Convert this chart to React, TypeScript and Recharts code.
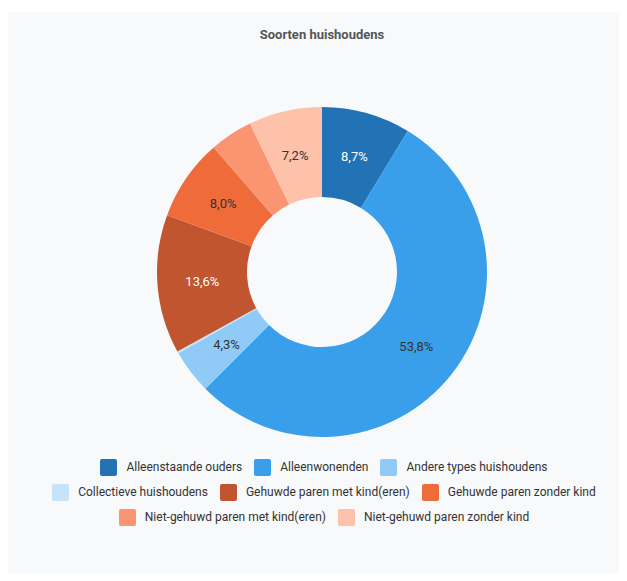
import { Cell, Pie, PieChart } from 'recharts';

const categories = [
    'Alleenstaande ouders',
    'Alleenwonenden',
    'Andere types huishoudens',
    'Collectieve huishoudens',
    'Gehuwde paren met kind(eren)',
    'Gehuwde paren zonder kind',
    'Niet-gehuwd paren met kind(eren)',
    'Niet-gehuwd paren zonder kind',
];

const shares = [8.7, 53.8, 4.3, 0.2, 13.6, 8.0, 4.2, 7.2];

const colors = [
    '#2173b6',
    '#399fea',
    '#90cbf8',
    '#c5e3fb',
    '#c1552f',
    '#f06b3a',
    '#fb9470',
    '#fec1aa',
];

const labelColors = ['#ffffff', '#333333', '#333333', '#333333', '#ffffff', '#333333', '#333333', '#333333'];

const data = categories.map((name, i) => ({ name, value: shares[i] }));

const RADIAN = Math.PI / 180;

const renderLabel = (props: any) => {
    const { cx, cy, midAngle, innerRadius, outerRadius, percent, index } = props;
    if (percent < 0.043) return null;
    const r = (innerRadius + outerRadius) / 2;
    const x = cx + r * Math.cos(-midAngle * RADIAN);
    const y = cy + r * Math.sin(-midAngle * RADIAN);
    const txt =
        (percent * 100).toLocaleString('nl-NL', {
            minimumFractionDigits: 1,
            maximumFractionDigits: 1,
        }) + '%';
    return (
        <text
            x={x}
            y={y}
            fill={labelColors[index]}
            textAnchor="middle"
            dominantBaseline="central"
            fontSize={13}
            fontFamily="Roboto, sans-serif"
        >
            {txt}
        </text>
    );
};

const App = () => {
    return (
        <div
            style={{
                position: 'relative',
                width: 627,
                height: 581,
                margin: -8,
                background: '#ffffff',
                overflow: 'hidden',
                fontFamily: 'Roboto, sans-serif',
            }}
        >
            {/* card */}
            <div
                style={{
                    position: 'absolute',
                    left: 7,
                    top: 12,
                    width: 620,
                    height: 569,
                    background: '#f8f9fb',
                }}
            />
            <div
                style={{
                    position: 'absolute',
                    left: 0,
                    width: 644,
                    top: 27,
                    textAlign: 'center',
                    fontSize: 13,
                    fontWeight: 700,
                    color: '#555555',
                }}
            >
                Soorten huishoudens
            </div>
            <div style={{ position: 'absolute', left: 0, top: 0 }}>
                <PieChart
                    width={627}
                    height={450}
                    margin={{ top: 0, right: 0, bottom: 0, left: 0 }}
                >
                    <Pie
                        data={data}
                        dataKey="value"
                        nameKey="name"
                        cx={322}
                        cy={272}
                        innerRadius={75}
                        outerRadius={165}
                        startAngle={90}
                        endAngle={-270}
                        stroke="none"
                        label={renderLabel}
                        labelLine={false}
                        isAnimationActive={false}
                    >
                        {data.map((d, i) => (
                            <Cell key={d.name} fill={colors[i]} />
                        ))}
                    </Pie>
                </PieChart>
            </div>
            {/* legend */}
            <div
                style={{
                    position: 'absolute',
                    left: 44,
                    width: 560,
                    top: 458,
                    display: 'flex',
                    flexWrap: 'wrap',
                    justifyContent: 'center',
                    rowGap: 7,
                }}
            >
                {categories.map((name, i) => (
                    <div
                        key={name}
                        style={{
                            display: 'flex',
                            alignItems: 'center',
                            marginLeft: 6,
                            marginRight: 6,
                            height: 18,
                        }}
                    >
                        <span
                            style={{
                                width: 17,
                                height: 17,
                                borderRadius: 2,
                                background: colors[i],
                                marginRight: 9,
                            }}
                        />
                        <span style={{ fontSize: 12, color: '#333333' }}>{name}</span>
                    </div>
                ))}
            </div>
        </div>
    );
};

export default App;
